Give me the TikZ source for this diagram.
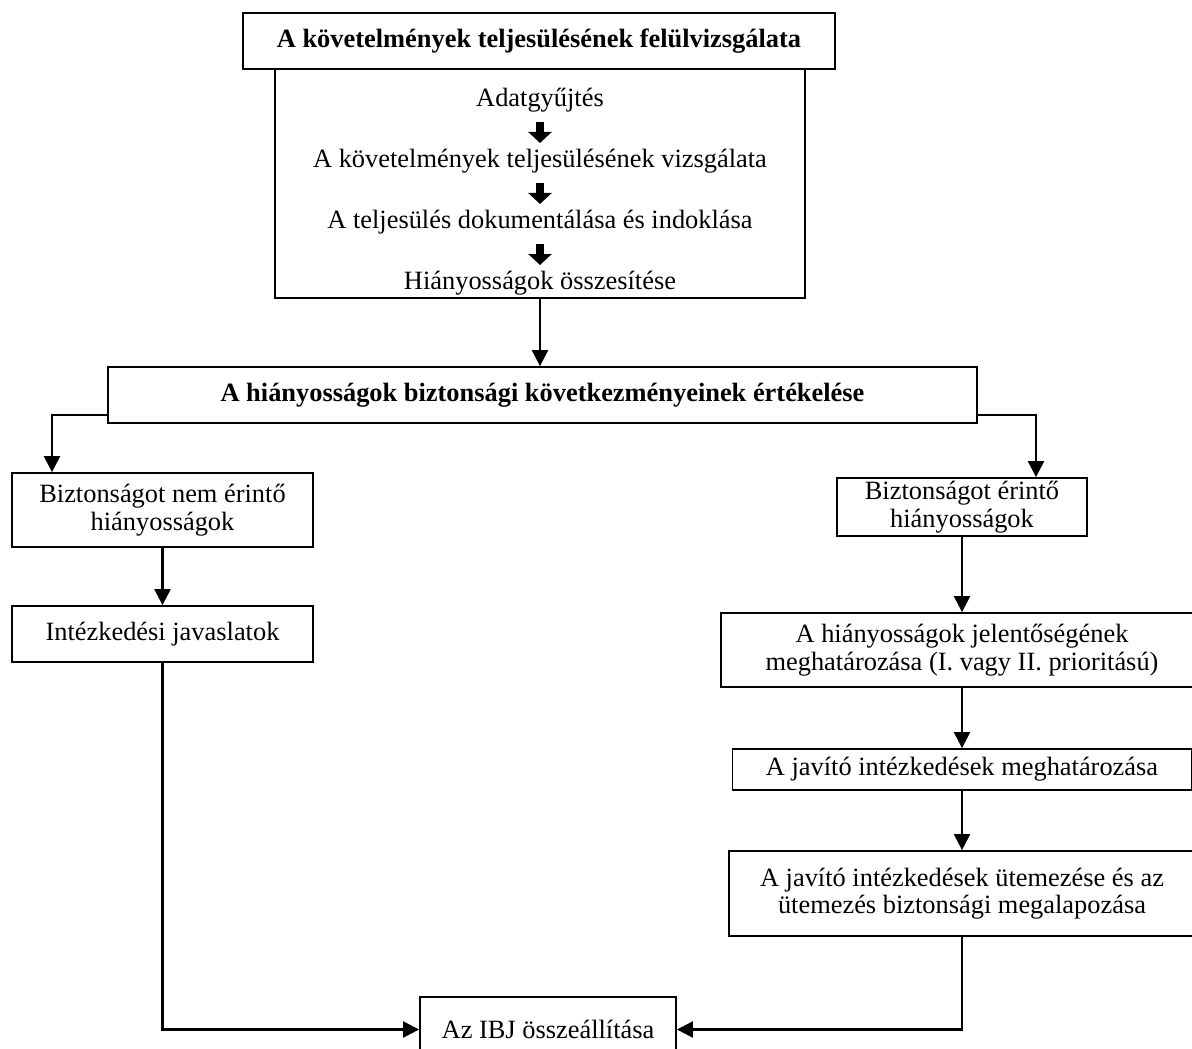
\documentclass[tikz,border=0pt]{standalone}
\usepackage{fontspec}
\setmainfont{Liberation Serif}
\usetikzlibrary{arrows.meta}

\begin{document}
\begin{tikzpicture}[x=0.5pt, y=-0.5pt, font=\fontsize{13.2}{13.8}\selectfont]
      \tikzset{
	  stepbox/.style={rectangle, draw=black, line width=0.9pt, inner sep=0pt, align=center},
	  titlebox/.style={stepbox, line width=1.2pt, font=\fontsize{13.2}{13.8}\selectfont\bfseries},
	  stepline/.style={inner sep=0pt},
	  flowline/.style={draw=black, line width=1.1pt, -{Triangle[length=8pt, width=8pt]}},
	  fatarrow/.style={draw=black, line width=4pt, -{Triangle[length=5.5pt, width=11.5pt]}, shorten <=11pt, shorten >=9pt}
      }
      \useasboundingbox (0,0) rectangle (1192,1048);

      \node[titlebox, minimum width=296pt, minimum height=28pt] (check) at (539,41) {A követelmények teljesülésének felülvizsgálata};
      \node[stepbox, minimum width=265pt, minimum height=114.5pt] (inner) at (540,183.5) {};
      \node[stepline] (collect) at (540,100) {Adatgyűjtés};
      \node[stepline] (verify) at (540,161) {A követelmények teljesülésének vizsgálata};
      \node[stepline] (document) at (540,222) {A teljesülés dokumentálása és indoklása};
      \node[stepline] (summary) at (540,283) {Hiányosságok összesítése};
      \draw[fatarrow] (collect.center) -- (verify.center);
      \draw[fatarrow] (verify.center) -- (document.center);
      \draw[fatarrow] (document.center) -- (summary.center);

      \node[titlebox, line width=0.9pt, minimum width=434.5pt, minimum height=28pt] (hazard) at (542.5,395) {A hiányosságok biztonsági következményeinek értékelése};

      \node[stepbox, minimum width=150.5pt, minimum height=37pt] (minor) at (162.5,510) {Biztonságot nem érintő\\hiányosságok};
      \node[stepbox, minimum width=150.5pt, minimum height=28pt] (proposal) at (162.5,634) {Intézkedési javaslatok};

      \node[stepbox, minimum width=125pt, minimum height=29pt] (major) at (962,507) {Biztonságot érintő\\hiányosságok};
      \node[stepbox, minimum width=241pt, minimum height=37pt] (signif) at (962,650) {A hiányosságok jelentőségének\\meghatározása (I. vagy II. prioritású)};
      \node[stepbox, minimum width=229.5pt, minimum height=20.5pt] (measures) at (962,769.5) {A javító intézkedések meghatározása};
      \node[stepbox, minimum width=233pt, minimum height=42.5pt] (schedule) at (962,893.5) {A javító intézkedések ütemezése és az\\ütemezés biztonsági megalapozása};

      \node[stepbox, minimum width=128pt, minimum height=32.5pt] (ibj) at (548,1029.5) {Az IBJ összeállítása};

      \draw[flowline] (inner.south) -- (inner.south |- hazard.north);
      \draw[flowline] ([yshift=-10pt]hazard.west) -| ([xshift=-55.25pt]minor.north);
      \draw[flowline] ([yshift=-10pt]hazard.east) -| ([xshift=37pt]major.north);
      \draw[flowline] (minor) -- (proposal);
      \draw[flowline] (proposal.south) |- (ibj.west);
      \draw[flowline] (major) -- (signif);
      \draw[flowline] (signif) -- (measures);
      \draw[flowline] (measures) -- (schedule);
      \draw[flowline] (schedule.south) |- (ibj.east);
    \end{tikzpicture}
\end{document}
